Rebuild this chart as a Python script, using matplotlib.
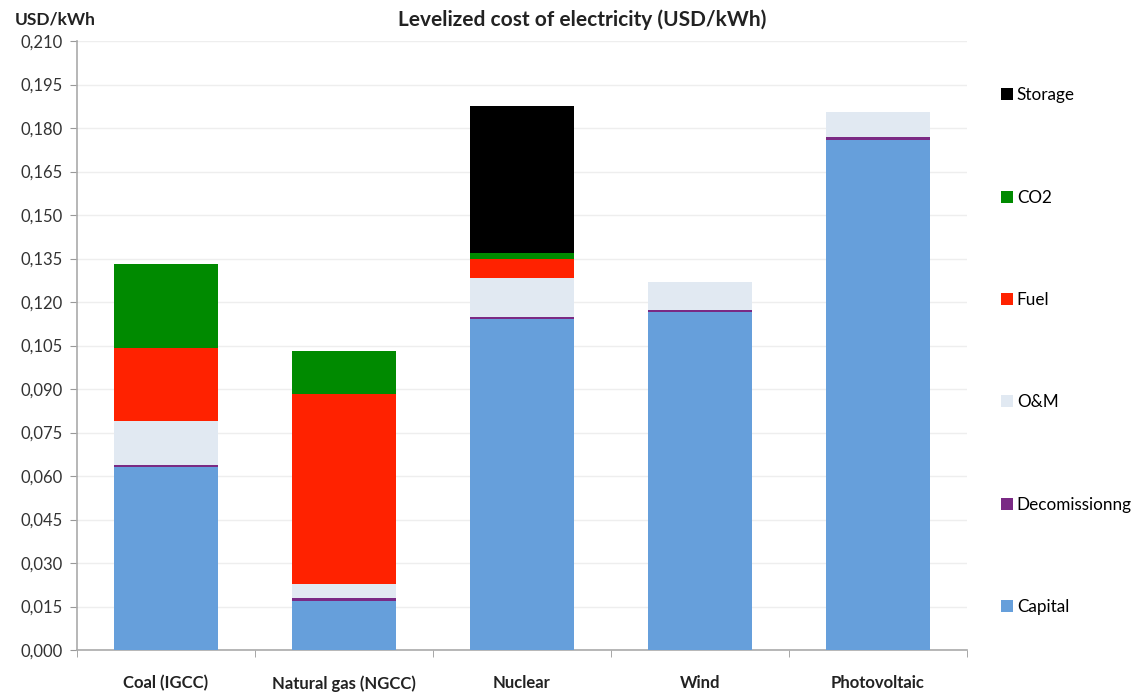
import matplotlib
matplotlib.use("Agg")
import matplotlib.pyplot as plt
from matplotlib.patches import Patch
from matplotlib.ticker import FuncFormatter, MultipleLocator
import numpy as np

plt.rcParams['font.family'] = ['Lato', 'DejaVu Sans']

categories = ["Coal (IGCC)", "Natural gas (NGCC)", "Nuclear", "Wind", "Photovoltaic"]

capital = [0.063, 0.017, 0.114, 0.1165, 0.176]
decommissioning = [0.0008, 0.0008, 0.0009, 0.0008, 0.0008]
om = [0.0152, 0.0050, 0.0134, 0.0097, 0.0086]
fuel = [0.0250, 0.0654, 0.0067, 0.0, 0.0]
co2 = [0.0290, 0.0150, 0.0020, 0.0, 0.0]
storage = [0.0, 0.0, 0.0506, 0.0, 0.0]

series = [
    ("Capital", capital, "#669fdb"),
    ("Decomissionng", decommissioning, "#7a2a84"),
    ("O&M", om, "#e1e9f2"),
    ("Fuel", fuel, "#ff2200"),
    ("CO2", co2, "#008a00"),
    ("Storage", storage, "#000000"),
]

fig = plt.figure(figsize=(11.37, 6.95), dpi=100)
ax = fig.add_axes([0.0677, 0.0647, 0.7828, 0.8763])

x = np.arange(len(categories))
bottom = np.zeros(len(categories))
handles = []
for name, vals, color in series:
    vals = np.array(vals)
    ax.bar(x, vals, width=0.585, bottom=bottom, color=color, edgecolor="none", zorder=3)
    bottom += vals
    handles.append(Patch(facecolor=color, edgecolor="none", label=name))

ax.set_xlim(-0.5, len(categories) - 0.5)
ax.set_ylim(0, 0.210)
ax.yaxis.set_major_locator(MultipleLocator(0.015))
ax.yaxis.set_major_formatter(FuncFormatter(lambda v, p: f"{v:.3f}".replace(".", ",")))
ax.grid(axis="y", color="#eeeeee", linewidth=1.0, zorder=0)

ax.set_xticks(x)
ax.set_xticklabels(categories, fontweight="bold", fontsize=12, color="#222222")
ax.set_xticks(np.arange(len(categories) + 1) - 0.5, minor=True)
ax.tick_params(axis="x", which="major", length=0, pad=18)
ax.tick_params(axis="x", which="minor", length=5, color="#999999", direction="out")
ax.tick_params(axis="y", length=5, color="#999999", labelsize=12, labelcolor="#333333", pad=5)

for side in ("top", "right"):
    ax.spines[side].set_visible(False)
for side in ("left", "bottom"):
    ax.spines[side].set_color("#aaaaaa")
    ax.spines[side].set_linewidth(1.2)

fig.text(0.013, 0.972, "USD/kWh", fontweight="bold", fontsize=12.5, color="#222222", va="center")
fig.text(0.512, 0.972, "Levelized cost of electricity (USD/kWh)", fontweight="bold",
         fontsize=15, color="#222222", va="center", ha="center")

fig.legend(handles=handles[::-1], loc="upper left", bbox_to_anchor=(0.874, 0.884),
           frameon=False, fontsize=12.3, handlelength=0.7, handleheight=0.7,
           handletextpad=0.25, labelspacing=5.05, borderaxespad=0)

fig.savefig("out.png", dpi=100)
